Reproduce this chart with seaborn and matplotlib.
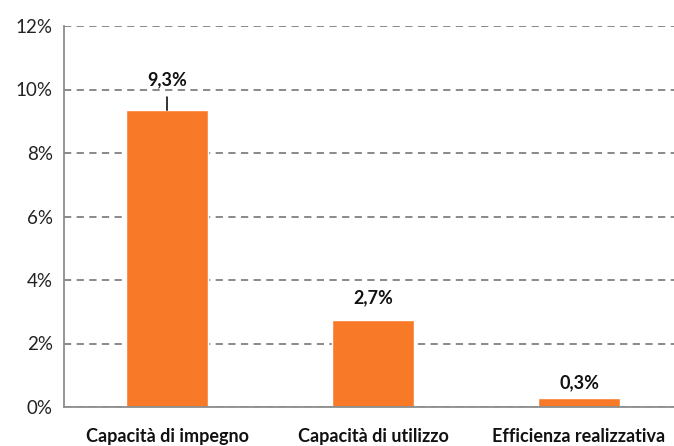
import matplotlib
matplotlib.use("Agg")
import matplotlib.pyplot as plt
import seaborn as sns
import pandas as pd

categories = ["Capacità di impegno", "Capacità di utilizzo", "Efficienza realizzativa"]
values = [9.35, 2.74, 0.28]
value_labels = ["9,3%", "2,7%", "0,3%"]
y_ticks = [0, 2, 4, 6, 8, 10, 12]
y_tick_labels = ["0%", "2%", "4%", "6%", "8%", "10%", "12%"]

sns.set_theme(style="white")
plt.rcParams["font.family"] = ["Lato", "DejaVu Sans"]

df = pd.DataFrame({"cat": categories, "val": values})

fig = plt.figure(figsize=(6.74, 4.46), dpi=100)
ax = fig.add_axes([64/674, 1 - 407/446, (682 - 64)/674, (407 - 26)/446])

sns.barplot(data=df, x="cat", y="val", color="#F87A28", saturation=1, width=0.40, ax=ax)

ax.set_xlim(-0.5, 2.5)
ax.set_ylim(0, 12)
ax.set_yticks(y_ticks)
ax.set_yticklabels(y_tick_labels, fontsize=13.5, color="#222222")
ax.set_xlabel("")
ax.set_ylabel("")
ax.set_xticks(range(len(categories)))
ax.set_xticklabels(categories, fontsize=13, fontweight="bold", color="#111111")
ax.set_xticks([-0.5, 0.5, 1.5, 2.5], minor=True)
ax.tick_params(axis="x", which="major", length=0, pad=15)
ax.tick_params(axis="x", which="minor", length=5, width=1.2, color="#8c8c8c", direction="out")
ax.tick_params(axis="y", length=5, width=1.2, color="#8c8c8c", direction="out", pad=3)

ax.yaxis.grid(True, linestyle=(0, (4, 3)), color="#808080", linewidth=1.3)
ax.set_axisbelow(True)
for s in ["top", "right"]:
    ax.spines[s].set_visible(False)
for s in ["left", "bottom"]:
    ax.spines[s].set_color("#8c8c8c")
    ax.spines[s].set_linewidth(1.3)

offsets = [21.6, 15.8, 10.8]
for i, (v, lab, off) in enumerate(zip(values, value_labels, offsets)):
    ax.annotate(lab, xy=(i, v), xytext=(0, off), textcoords="offset points",
                ha="center", va="center", fontsize=13, fontweight="bold", color="#111111")
# leader line for first label
ax.annotate("", xy=(0, values[0]), xytext=(0, 9.4), textcoords="offset points",
            arrowprops=dict(arrowstyle="-", color="#111111", lw=1.2, shrinkA=0, shrinkB=0))

fig.savefig("out.png", dpi=100)
